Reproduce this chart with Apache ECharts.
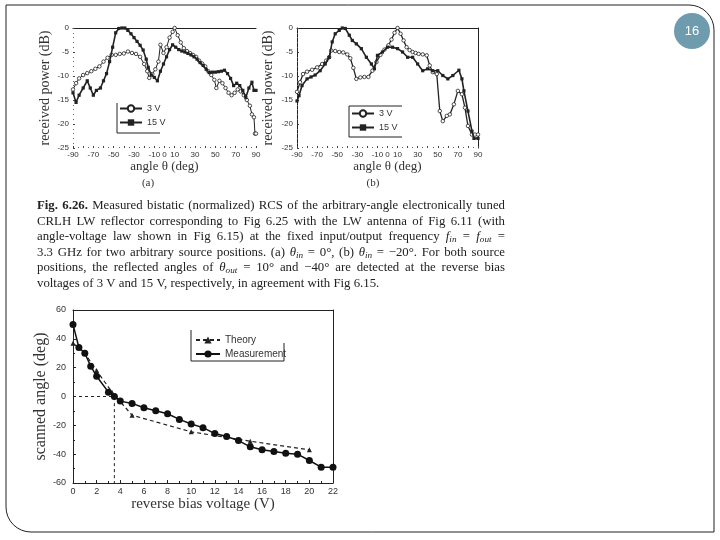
<!DOCTYPE html>
<html><head><meta charset="utf-8">
<script src="https://cdn.jsdelivr.net/npm/echarts@6/dist/echarts.min.js"></script>
<style>html,body{margin:0;padding:0;background:#fff}#c{width:720px;height:540px}</style>
</head><body><div id="c"></div>
<script>
// ---------- DATA ----------
// Panel (a): received power (dB) vs angle (deg)
const a3V = [[-90,-12.8],[-87,-11.5],[-84,-10.5],[-80,-9.8],[-76,-9.4],[-72,-9],[-68,-8.5],[-64,-8],[-60,-7],[-56,-6.2],[-52,-5.6],[-48,-5.6],[-44,-5.4],[-40,-5.3],[-36,-4.9],[-32,-5.2],[-28,-5.4],[-24,-6],[-20,-7.5],[-17,-9],[-15,-10.4],[-12,-9.6],[-9,-8.6],[-6,-7],[-4,-3.5],[-1,-5.2],[2,-4],[5,-2],[8,-0.8],[10,0],[13,-1.5],[16,-3],[19,-4.2],[22,-4.8],[25,-5.2],[28,-5.6],[31,-6],[34,-6.8],[37,-7.4],[40,-8],[43,-9],[46,-9.8],[49,-10.8],[51,-12.5],[54,-11],[57,-11.5],[60,-12.5],[63,-13.5],[66,-14],[69,-13.5],[72,-12.8],[75,-13.2],[78,-14],[81,-15],[84,-16.2],[86,-18],[88,-18.6],[89,-22],[90,-22]];
const a15V = [[-90,-13.5],[-87,-15.5],[-84,-14],[-80,-12.5],[-76,-11],[-73,-12.5],[-70,-14],[-67,-13],[-63,-12.5],[-60,-11],[-57,-9.5],[-54,-7],[-51,-4],[-48,-1],[-45,-0.1],[-42,0],[-39,0],[-36,-0.5],[-33,-1.2],[-30,-2],[-27,-2.8],[-24,-3.6],[-21,-4.6],[-18,-6.5],[-16,-8.2],[-13,-9.8],[-10,-10.3],[-7,-11],[-4,-9],[-1,-7.5],[2,-6],[5,-4.5],[8,-3.5],[11,-4],[14,-4.5],[17,-4.8],[20,-5],[23,-5.3],[26,-5.6],[29,-6],[32,-6.5],[35,-7.2],[38,-7.8],[41,-8.6],[44,-9.3],[47,-9.2],[50,-9.2],[53,-9.1],[56,-9],[59,-8.8],[62,-9.5],[65,-10.5],[68,-12],[71,-11.5],[74,-12],[77,-13],[80,-14.5],[83,-12.5],[86,-11.3],[88,-13],[90,-13]];
// Panel (b)
const b3V = [[-90,-13.3],[-87,-11.3],[-84,-9.6],[-80,-9.1],[-75,-8.7],[-70,-8.2],[-65,-7.5],[-61,-6.8],[-58,-6.1],[-56,-4.7],[-52,-4.8],[-48,-5],[-44,-5.1],[-40,-5.5],[-37,-6.3],[-34,-8.3],[-31,-10.6],[-27,-10.3],[-23,-10.2],[-19,-10.2],[-15,-8.9],[-11,-7.1],[-7,-5.6],[-3,-4.5],[1,-3.6],[4,-2.4],[7,-1],[10,0],[13,-1.2],[16,-2.6],[19,-4],[22,-4.6],[25,-5],[28,-5.2],[31,-5.4],[35,-5.5],[39,-5.7],[42,-7.8],[45,-9.2],[49,-9.6],[52,-17.3],[55,-19.4],[59,-18.3],[62,-18],[66,-15.9],[70,-13.1],[74,-13.8],[77,-16.6],[80,-20.4],[84,-22.2],[87,-22.2],[90,-22.2]];
const b15V = [[-90,-15.2],[-88,-14.1],[-85,-12],[-80,-10.6],[-76,-10.2],[-72,-9.8],[-67,-8.9],[-62,-7.5],[-58,-6.1],[-55,-2.9],[-52,-1.2],[-48,-0.5],[-45,0],[-42,-0.1],[-38,-1.5],[-35,-2.6],[-31,-3.3],[-26,-4.3],[-21,-6.1],[-16,-7.5],[-13,-8.5],[-10,-5.7],[-5,-5],[0,-4],[5,-4],[10,-4.3],[15,-5],[20,-6.1],[25,-6.1],[30,-7.5],[35,-8.9],[40,-8.5],[45,-8.9],[50,-8.9],[55,-9.9],[60,-10.6],[65,-9.9],[71,-8.8],[74,-10.6],[76,-13.1],[80,-17.3],[84,-21.5],[86,-23],[90,-23]];
const angleTickLabels = [-90,-70,-50,-30,-10,0,10,30,50,70,90];

// Bottom chart: scanned angle (deg) vs reverse bias voltage (V)
const measVoltage = [0,0.5,1,1.5,2,3,3.5,4,5,6,7,8,9,10,11,12,13,14,15,16,17,18,19,20,21,22];
const measAngle   = [50,34,30,21,14,3,0,-3.2,-4.8,-7.8,-9.9,-12,-15.9,-19.1,-21.6,-25.7,-27.8,-30.6,-34.9,-37,-38.2,-39.3,-40,-44.4,-49,-49];
const theoVoltage = [0,1,2,3.3,5,10,15,20];
const theoAngle   = [37,30,18,3,-13,-24.5,-31,-37];
const zeroCrossV  = 3.5;

// Caption
const captionLines = [
  "§Fig. §6.26.  Measured bistatic (normalized) RCS of the arbitrary-angle electronically tuned",
  "CRLH LW reflector corresponding to Fig 6.25 with the LW antenna of Fig 6.11 (with",
  "angle-voltage law shown in Fig 6.15) at the fixed input/output frequency f_{in} = f_{out} =",
  "3.3 GHz for two arbitrary source positions. (a) θ_{in} = 0°, (b) θ_{in} = −20°. For both source",
  "positions, the reflected angles of θ_{out} = 10° and −40° are detected at the reverse bias",
  "voltages of 3 V and 15 V, respectively, in agreement with Fig 6.15."
];
const pageNumber = "16";

// ---------- BUILD ----------
const INK = '#222';
const SERIF = '"Liberation Serif","DejaVu Serif",serif';
const SANS = '"Liberation Sans",Arial,sans-serif';
const zip = (a,b) => a.map((v,i)=>[v,b[i]]);

function angleX(grid){
  return [{
    type:'value', gridIndex:grid, min:-90, max:90, interval:10, position:'bottom',
    name:'angle θ (deg)', nameLocation:'middle', nameGap:12,
    nameTextStyle:{fontFamily:SERIF, fontSize:13, color:'#333'},
    axisLine:{show:false, onZero:false},
    axisTick:{show:true, inside:true, length:2, lineStyle:{color:'#444'}},
    minorTick:{show:true, splitNumber:2, length:1, lineStyle:{color:'#666'}},
    splitLine:{show:false},
    axisLabel:{fontFamily:SANS, fontSize:8, color:'#333', margin:3, showMinLabel:true, showMaxLabel:true,
      formatter:v=>angleTickLabels.includes(v)?String(v):''}
  },{
    type:'value', gridIndex:grid, min:-90, max:90, position:'top',
    axisLine:{show:true, onZero:false, lineStyle:{color:INK, width:1}}, axisTick:{show:false}, axisLabel:{show:false}, splitLine:{show:false}
  }];
}
function powerY(grid, line){
  return {
    type:'value', gridIndex:grid, min:-25, max:0, interval:5, position:'left',
    name:'received power (dB)', nameLocation:'middle', nameGap: grid===0?21:22,
    nameTextStyle:{fontFamily:SERIF, fontSize:14, color:'#333'},
    axisLine:{show:line, onZero:false, lineStyle:{color:INK}},
    axisTick:{show:true, inside:true, length:2, lineStyle:{color:'#444'}},
    minorTick:{show:true, splitNumber:5, length:1, lineStyle:{color:'#666'}},
    splitLine:{show:false},
    axisLabel:{fontFamily:SANS, fontSize:8, color:'#333', margin:4}
  };
}
function openLine(name, data, xi, yi, lw){
  return {type:'line', name, xAxisIndex:xi, yAxisIndex:yi, data, symbol:'circle', symbolSize:3.5,
    itemStyle:{color:'#fff', borderColor:INK, borderWidth:0.8}, lineStyle:{color:INK, width:lw}, silent:true, z:3};
}
function fillLine(name, data, xi, yi, lw){
  return {type:'line', name, xAxisIndex:xi, yAxisIndex:yi, data, symbol:'rect', symbolSize:3.2,
    itemStyle:{color:INK}, lineStyle:{color:INK, width:lw}, silent:true, z:4};
}

// caption graphic (justified text, one element per word part)
const capCtx = document.createElement('canvas').getContext('2d');
const CAP_SIZE = 12.8, CAP_X0 = 37, CAP_X1 = 505, CAP_Y0 = 206, CAP_DY = 15.5;
function fontStr(p){ return (p.italic?'italic ':'') + (p.bold?'bold ':'') + p.size + 'px ' + SERIF; }
function parseWord(w, S){
  if (w.startsWith('§')) return [{t:w.slice(1), bold:true, size:S}];
  const m = w.match(/^(.*?)_\{(.*?)\}(.*)$/);
  if (m) {
    const parts = [{t:m[1], italic:true, size:S},{t:m[2], italic:true, size:S*0.72, sub:true}];
    if (m[3]) parts.push({t:m[3], size:S});
    return parts;
  }
  return [{t:w, size:S}];
}
function measureLine(line, S){
  const words = line.split(' ').filter(Boolean).map(w=>parseWord(w,S));
  let total = 0;
  words.forEach(ps => ps.forEach(p => { capCtx.font = fontStr(p); p.w = capCtx.measureText(p.t).width; total += p.w; }));
  capCtx.font = fontStr({size:S});
  const sp = capCtx.measureText(' ').width;
  return {words, total, sp};
}
const captionGraphics = [];
const W = CAP_X1 - CAP_X0;
captionLines.forEach((line, li) => {
  let S = CAP_SIZE;
  let m = measureLine(line, S);
  const minNeed = m.total + m.sp*0.75*(m.words.length-1);
  if (minNeed > W) { S = S * W / minNeed; m = measureLine(line, S); }
  const justify = li < captionLines.length-1;
  const gap = justify ? (W - m.total)/(m.words.length-1) : m.sp;
  let x = CAP_X0;
  const y = CAP_Y0 + li*CAP_DY;
  m.words.forEach(ps => {
    ps.forEach(p => {
      captionGraphics.push({type:'text', silent:true, x:x, y: y + (p.sub?3:0),
        style:{text:p.t, fontFamily:SERIF, fontSize:p.size, fontStyle:p.italic?'italic':'normal',
               fontWeight:p.bold?'bold':'normal', fill:'#222', align:'left', verticalAlign:'middle'}});
      x += p.w;
    });
    x += gap;
  });
});

const lineStyleG = {fill:'none', stroke:'#222', lineWidth:1};
const option = {
  animation:false,
  backgroundColor:'#fff',
  grid:[
    {left:73, top:28, width:183, height:120},
    {left:297, top:28, width:181, height:120},
    {left:73, top:310, width:260, height:173}
  ],
  xAxis:[
    ...angleX(0), ...angleX(1),
    {type:'value', gridIndex:2, min:0, max:22, interval:2, position:'bottom',
     name:'reverse bias voltage (V)', nameLocation:'middle', nameGap:12,
     nameTextStyle:{fontFamily:SERIF, fontSize:15, color:'#333'},
     axisLine:{show:true, onZero:false, lineStyle:{color:INK}},
     axisTick:{show:true, inside:true, length:3, lineStyle:{color:INK}},
     minorTick:{show:true, splitNumber:2, length:2, lineStyle:{color:INK}},
     splitLine:{show:false},
     axisLabel:{fontFamily:SANS, fontSize:9, color:'#333', margin:4}},
    {type:'value', gridIndex:2, min:0, max:22, position:'top',
     axisLine:{show:true, onZero:false, lineStyle:{color:INK}}, axisTick:{show:false}, axisLabel:{show:false}, splitLine:{show:false}}
  ],
  yAxis:[
    powerY(0,false),
    powerY(1,true),
    {type:'value', gridIndex:1, min:-25, max:0, position:'right',
     axisLine:{show:true, onZero:false, lineStyle:{color:INK}}, axisTick:{show:false}, axisLabel:{show:false}, splitLine:{show:false}},
    {type:'value', gridIndex:2, min:-60, max:60, interval:20, position:'left',
     name:'scanned angle (deg)', nameLocation:'middle', nameGap:20,
     nameTextStyle:{fontFamily:SERIF, fontSize:16, color:'#333'},
     axisLine:{show:true, onZero:false, lineStyle:{color:INK}},
     axisTick:{show:true, inside:true, length:3, lineStyle:{color:INK}},
     minorTick:{show:true, splitNumber:2, length:2, lineStyle:{color:INK}},
     splitLine:{show:false},
     axisLabel:{fontFamily:SANS, fontSize:9, color:'#333', margin:7}},
    {type:'value', gridIndex:2, min:-60, max:60, position:'right',
     axisLine:{show:true, onZero:false, lineStyle:{color:INK}}, axisTick:{show:false}, axisLabel:{show:false}, splitLine:{show:false}}
  ],
  legend:[
    {data:['3 V','15 V'], left:119, top:104, orient:'vertical', itemWidth:22, itemHeight:8, itemGap:5, padding:0,
     textStyle:{fontFamily:SANS, fontSize:9, color:'#333'}, selectedMode:false},
    {data:['3 V ','15 V '], left:351, top:109, orient:'vertical', itemWidth:22, itemHeight:8, itemGap:5, padding:0,
     textStyle:{fontFamily:SANS, fontSize:9, color:'#333'}, selectedMode:false},
    {data:['Theory','Measurement'], left:195, top:335, orient:'vertical', itemWidth:24, itemHeight:9, itemGap:4, padding:0,
     textStyle:{fontFamily:SANS, fontSize:10, color:'#333'}, selectedMode:false}
  ],
  series:[
    openLine('3 V', a3V, 0, 0, 1),
    fillLine('15 V', a15V, 0, 0, 1.6),
    openLine('3 V ', b3V, 2, 1, 1.3),
    fillLine('15 V ', b15V, 2, 1, 1.6),
    {type:'line', name:'zero', xAxisIndex:4, yAxisIndex:3, silent:true, symbol:'none',
     data:[[0,0],[zeroCrossV,0],[zeroCrossV,-60]], lineStyle:{color:INK, width:1, type:[3,3]}, z:1},
    {type:'line', name:'Theory', xAxisIndex:4, yAxisIndex:3, silent:true, data:zip(theoVoltage, theoAngle),
     symbol:'triangle', symbolSize:5, itemStyle:{color:INK}, lineStyle:{color:INK, width:1.2, type:[4,3]}, z:3},
    {type:'line', name:'Measurement', xAxisIndex:4, yAxisIndex:3, silent:true, data:zip(measVoltage, measAngle),
     symbol:'circle', symbolSize:7, itemStyle:{color:'#111'}, lineStyle:{color:'#111', width:1.5}, z:4}
  ],
  graphic:[
    {type:'polyline', silent:true, shape:{points:[[6,507],[6,5],[689,5]]}, style:lineStyleG},
    {type:'arc', silent:true, shape:{cx:689, cy:30, r:25, startAngle:-Math.PI/2, endAngle:0, clockwise:true}, style:lineStyleG},
    {type:'polyline', silent:true, shape:{points:[[714,30],[714,532],[31,532]]}, style:lineStyleG},
    {type:'arc', silent:true, shape:{cx:31, cy:507, r:25, startAngle:Math.PI/2, endAngle:Math.PI, clockwise:true}, style:lineStyleG},
    {type:'circle', silent:true, shape:{cx:692, cy:31, r:18}, style:{fill:'#6e9cae'}},
    {type:'text', silent:true, x:692, y:31, style:{text:pageNumber, fontFamily:SANS, fontSize:13, fill:'#fff', align:'center', verticalAlign:'middle'}},
    {type:'text', silent:true, x:148, y:183, style:{text:'(a)', fontFamily:SERIF, fontSize:11, fill:'#333', align:'center', verticalAlign:'middle'}},
    {type:'text', silent:true, x:373, y:183, style:{text:'(b)', fontFamily:SERIF, fontSize:11, fill:'#333', align:'center', verticalAlign:'middle'}},
    {type:'polyline', silent:true, shape:{points:[[117,103],[117,133],[160,133]]}, style:lineStyleG},
    {type:'polyline', silent:true, shape:{points:[[402,106],[349,106],[349,137],[402,137]]}, style:lineStyleG},
    {type:'polyline', silent:true, shape:{points:[[191,330],[191,361],[284,361],[284,343]]}, style:lineStyleG},
    ...captionGraphics
  ]
};
const chart = echarts.init(document.getElementById('c'), null, {renderer:'canvas'});
chart.setOption(option);
</script></body></html>
